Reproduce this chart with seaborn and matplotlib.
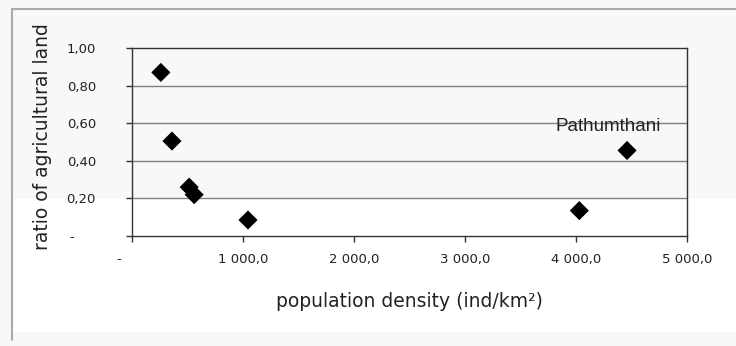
import matplotlib
matplotlib.use("Agg")
import matplotlib.pyplot as plt
import seaborn as sns
import pandas as pd
from matplotlib.lines import Line2D
from matplotlib.patches import Rectangle

density = [260, 360, 515, 560, 1045, 4030, 4460]
ratio = [0.87, 0.505, 0.26, 0.22, 0.085, 0.135, 0.455]
x_ticks = [0, 1000, 2000, 3000, 4000, 5000]
x_tick_labels = ["-      ", "1 000,0", "2 000,0", "3 000,0", "4 000,0", "5 000,0"]
y_ticks = [0, 0.2, 0.4, 0.6, 0.8, 1.0]
y_tick_labels = ["-     ", "0,20", "0,40", "0,60", "0,80", "1,00"]
label_text = "Pathumthani"
label_pos = (4290, 0.58)

df = pd.DataFrame({"density": density, "ratio": ratio})

sns.set_style("white")
plt.rcParams["font.family"] = ["DejaVu Sans"]

fig = plt.figure(figsize=(7.36, 3.46), dpi=100)
fig.patch.set_facecolor("#f8f8f8")
# white band (scan artefact)
fig.patches.append(Rectangle((12/736, 1-332/346), 1-12/736, (332-199)/346,
                             transform=fig.transFigure, facecolor="white",
                             edgecolor="none", zorder=-5))
# outer frame lines
fig.lines.append(Line2D([12/736, 12/736], [1-9/346, 1-340/346], transform=fig.transFigure,
                        color="#aaaaaa", lw=1.5, zorder=-4))
fig.lines.append(Line2D([12/736, 1.0], [1-9/346, 1-9/346], transform=fig.transFigure,
                        color="#aaaaaa", lw=1.5, zorder=-4))

ax = fig.add_axes([132/736, 1-236/346, (687-132)/736, (236-48)/346])
ax.set_facecolor("none")
ax.set_zorder(1)

sns.scatterplot(data=df, x="density", y="ratio", marker="D", s=95, color="black",
                edgecolor="none", ax=ax, zorder=3)

ax.set_xlim(0, 5000)
ax.set_ylim(0, 1.0)
ax.set_yticks(y_ticks)
ax.set_yticklabels(y_tick_labels, fontsize=9.5)
ax.set_xticks(x_ticks)
ax.set_xticklabels(x_tick_labels, fontsize=9.5)
for gy in y_ticks[1:-1]:
    ax.axhline(gy, color="#808080", lw=1.0, zorder=1)

for s in ax.spines.values():
    s.set_color("#333333")
    s.set_linewidth(1.0)
ax.tick_params(axis="both", direction="out", length=4, width=1, color="#333333",
               colors="#222222", bottom=True, left=True)
ax.tick_params(axis="x", pad=8)
ax.tick_params(axis="y", pad=22)

ax.set_xlabel("population density (ind/km²)", fontsize=13.5, color="#222222")
ax.xaxis.set_label_coords(0.5, -0.30)
ax.set_ylabel("ratio of agricultural land", fontsize=13.5, color="#222222")
ax.yaxis.set_label_coords(-0.145, 0.53)

ax.text(label_pos[0], label_pos[1], label_text, ha="center", va="center",
        fontsize=13.5, color="#222222", family="Liberation Sans")

fig.savefig("out.png", dpi=100)
